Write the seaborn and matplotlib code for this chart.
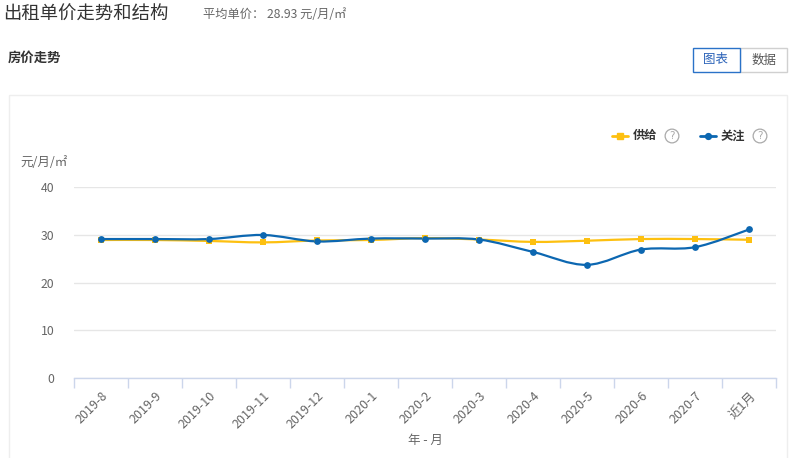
import numpy as np
import pandas as pd
import matplotlib
matplotlib.use("Agg")
import matplotlib.pyplot as plt
import seaborn as sns
from matplotlib.path import Path
from matplotlib.patches import PathPatch, Rectangle

months = ["2019-8", "2019-9", "2019-10", "2019-11", "2019-12", "2020-1", "2020-2",
          "2020-3", "2020-4", "2020-5", "2020-6", "2020-7", "近1月"]
supply = [28.9, 28.9, 28.7, 28.4, 28.8, 28.9, 29.3, 29.0, 28.5, 28.75, 29.1, 29.1, 28.95]
attention = [29.1, 29.1, 29.1, 29.95, 28.6, 29.2, 29.2, 29.0, 26.4, 23.7, 26.9, 27.4, 31.1]
y_ticks = [0, 10, 20, 30, 40]
title = "出租单价走势和结构"
subtitle = "平均单价： 28.93 元/月/㎡"
section = "房价走势"
series_names = ["供给", "关注"]

sns.set_theme(style="white")
FAM = ["Noto Sans CJK SC", "DejaVu Sans"]
plt.rcParams["font.family"] = FAM

YELLOW = "#fdc010"
BLUE = "#0c67b1"
W, H = 796, 458

fig = plt.figure(figsize=(W / 100, H / 100), dpi=100)
fig.patch.set_facecolor("white")


def fx(px):
    return px / W


def fy(py):
    return 1 - py / H


# card border
fig.patches.append(Rectangle((fx(9), fy(470)), fx(787) - fx(9), fy(95) - fy(470),
                             transform=fig.transFigure, fill=False, edgecolor="#eeeeee",
                             linewidth=1.0))

ax = fig.add_axes([fx(74), fy(378), fx(776) - fx(74), fy(187) - fy(378)])
ax.set_facecolor("white")

df = pd.DataFrame({"x": np.arange(len(months)), "供给": supply, "关注": attention})


def smooth_path(xs, ys, k=1 / 6):
    pts = np.column_stack([xs, ys]).astype(float)
    n = len(pts)
    verts = [pts[0]]
    codes = [Path.MOVETO]
    for i in range(n - 1):
        p0 = pts[i - 1] if i > 0 else pts[i]
        p1 = pts[i]
        p2 = pts[i + 1]
        p3 = pts[i + 2] if i + 2 < n else pts[i + 1]
        c1 = p1 + (p2 - p0) * k
        c2 = p2 - (p3 - p1) * k
        verts += [c1, c2, p2]
        codes += [Path.CURVE4] * 3
    return Path(verts, codes)


ax.add_patch(PathPatch(smooth_path(df["x"], df["供给"]), fill=False, edgecolor=YELLOW,
                       linewidth=1.6, zorder=3))
ax.add_patch(PathPatch(smooth_path(df["x"], df["关注"]), fill=False, edgecolor=BLUE,
                       linewidth=1.6, zorder=4))
sns.scatterplot(data=df, x="x", y="供给", ax=ax, marker="s", s=22, color=YELLOW,
                edgecolor=YELLOW, linewidth=0, zorder=5, legend=False)
sns.scatterplot(data=df, x="x", y="关注", ax=ax, marker="o", s=24, color=BLUE,
                edgecolor=BLUE, linewidth=0, zorder=6, legend=False)

ax.set_xlim(-0.5, len(months) - 0.5)
ax.set_ylim(0, 40)
ax.set_yticks(y_ticks)
ax.set_yticklabels([str(v) for v in y_ticks])
ax.grid(axis="y", color="#e6e6e6", linewidth=1)
ax.set_axisbelow(True)
for s in ["top", "right", "left"]:
    ax.spines[s].set_visible(False)
ax.spines["bottom"].set_color("#ccd6eb")
ax.spines["bottom"].set_linewidth(1)

ax.set_xticks(np.arange(len(months)))
ax.set_xticklabels(months, rotation=45, ha="right", rotation_mode="anchor",
                   fontsize=9, color="#666666")
ax.set_xticks(np.arange(-0.5, len(months)), minor=True)
ax.tick_params(axis="x", which="major", bottom=False, length=0, pad=8)
ax.tick_params(axis="x", which="minor", bottom=True, length=7, color="#ccd6eb", width=1)
ax.tick_params(axis="y", left=False, length=0, labelsize=8.8, labelcolor="#666666", pad=14)
ax.set_xlabel("")
ax.set_ylabel("")

# axis titles
fig.text(fx(20), fy(162), "元/月/㎡", fontsize=9, color="#666666", va="center",
         ha="left", family=FAM)
fig.text(fx(425), fy(440), "年 - 月", fontsize=9, color="#666666", va="center",
         ha="center", family=FAM)

# header texts
fig.text(fx(3), fy(15), title, fontsize=13.2, color="#333333", va="center", ha="left",
         family=FAM)
fig.text(fx(203), fy(15), subtitle, fontsize=8.8, color="#666666", va="center",
         ha="left", family=FAM)
fig.text(fx(8), fy(58), section, fontsize=9.6, color="#333333", weight="bold",
         va="center", ha="left", family=FAM)

# buttons
fig.patches.append(Rectangle((fx(740), fy(72)), fx(787) - fx(740), fy(48) - fy(72),
                             transform=fig.transFigure, fill=True, facecolor="white",
                             edgecolor="#d0d0d0", linewidth=1.0))
fig.patches.append(Rectangle((fx(693), fy(72)), fx(740) - fx(693), fy(48) - fy(72),
                             transform=fig.transFigure, fill=True, facecolor="white",
                             edgecolor="#2a72c8", linewidth=1.0))
fig.text(fx(716), fy(60), "图表", fontsize=9, color="#2a62b8", va="center", ha="center",
         family=FAM)
fig.text(fx(764), fy(60), "数据", fontsize=9, color="#555555", va="center", ha="center",
         family=FAM)

# legend
legend_items = [(612, YELLOW, "s", series_names[0]), (700, BLUE, "o", series_names[1])]
for lx, col, mk, name in legend_items:
    fig.lines.append(plt.Line2D([fx(lx), fx(lx + 16)], [fy(136), fy(136)],
                                transform=fig.transFigure, color=col, linewidth=2))
    fig.lines.append(plt.Line2D([fx(lx + 8)], [fy(136)], transform=fig.transFigure,
                                color=col, marker=mk, markersize=4.2, linewidth=0))
    fig.text(fx(lx + 21), fy(136), name, fontsize=8.8, color="#333333", weight="bold",
             va="center", ha="left", family=FAM)
    cx = lx + 60
    fig.text(fx(cx), fy(136), "?", fontsize=7.5, color="#aaaaaa", va="center",
             ha="center", family=["DejaVu Sans"],
             bbox=dict(boxstyle="circle,pad=0.18", fc="none", ec="#aaaaaa", lw=0.9))

fig.savefig("out.png", dpi=100, facecolor="white")
